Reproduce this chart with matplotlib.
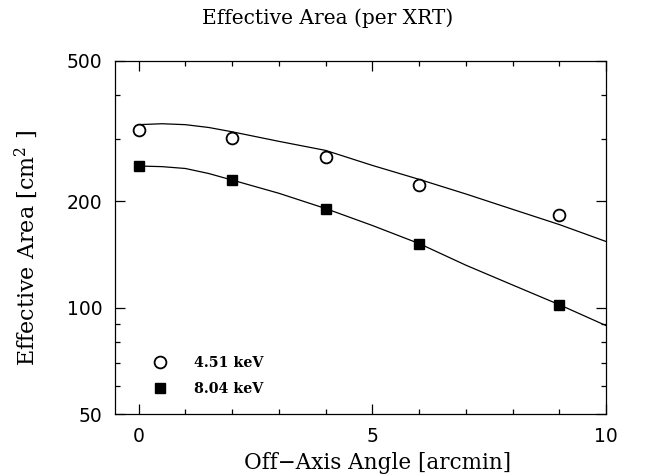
import matplotlib.pyplot as plt
from matplotlib.ticker import FixedLocator, NullFormatter

# measured effective area per XRT
angle = [0, 2, 4, 6, 9]
area_451 = [318, 302, 267, 223, 183]
area_804 = [252, 230, 191, 152, 102]

# model curves
model_angle = [0, 0.5, 1, 1.5, 2, 3, 4, 5, 6, 7, 8, 9, 10]
model_451 = [330, 332, 330, 324, 315, 296, 279, 253, 231, 210, 190, 172, 154]
model_804 = [252, 251, 248, 240, 230, 211, 191, 171, 152, 132, 116, 102, 89]

y_major = [50, 100, 200, 500]
y_minor = [60, 70, 80, 90, 300, 400]

serif = 'DejaVu Serif'
plt.rcParams['mathtext.fontset'] = 'dejavuserif'

fig = plt.figure(figsize=(6.47, 4.76), dpi=100)
ax = fig.add_axes([0.178, 0.130, 0.759, 0.742])

ax.plot(model_angle, model_451, color='black', lw=0.9)
ax.plot(model_angle, model_804, color='black', lw=0.9)
ax.plot(angle, area_451, 'o', mfc='white', mec='black', mew=1.3, ms=8.5,
        label='4.51 keV')
ax.plot(angle, area_804, 's', color='black', ms=6.5, label='8.04 keV')

ax.set_yscale('log')
ax.set_xlim(-0.5, 10)
ax.set_ylim(50, 500)
ax.yaxis.set_major_locator(FixedLocator(y_major))
ax.yaxis.set_minor_locator(FixedLocator(y_minor))
ax.set_yticklabels([str(v) for v in y_major])
ax.yaxis.set_minor_formatter(NullFormatter())
ax.xaxis.set_major_locator(FixedLocator([0, 5, 10]))
ax.xaxis.set_minor_locator(FixedLocator([1, 2, 3, 4, 6, 7, 8, 9]))

ax.tick_params(which='both', direction='in', top=True, right=True,
               labelsize=13.5, width=0.9)
ax.tick_params(which='major', length=7, pad=9)
ax.tick_params(which='minor', length=3.6)
for s in ax.spines.values():
    s.set_linewidth(0.9)

ax.legend(loc='lower left', bbox_to_anchor=(0.077, 0.052), frameon=False,
          borderpad=0, borderaxespad=0, handlelength=1.0, handletextpad=1.9,
          labelspacing=0.85,
          prop={'family': serif, 'weight': 'bold', 'size': 10.3})

fig.text(0.507, 0.962, 'Effective Area (per XRT)', ha='center', va='center',
         family=serif, fontsize=14.5)
fig.text(0.583, 0.027, 'Off\u2212Axis Angle [arcmin]', ha='center',
         va='center', family=serif, fontsize=15.5)
fig.text(0.040, 0.479, 'Effective Area [cm$^2$ ]', ha='center', va='center',
         rotation=90, family=serif, fontsize=16)

fig.savefig('out.png', dpi=100)
